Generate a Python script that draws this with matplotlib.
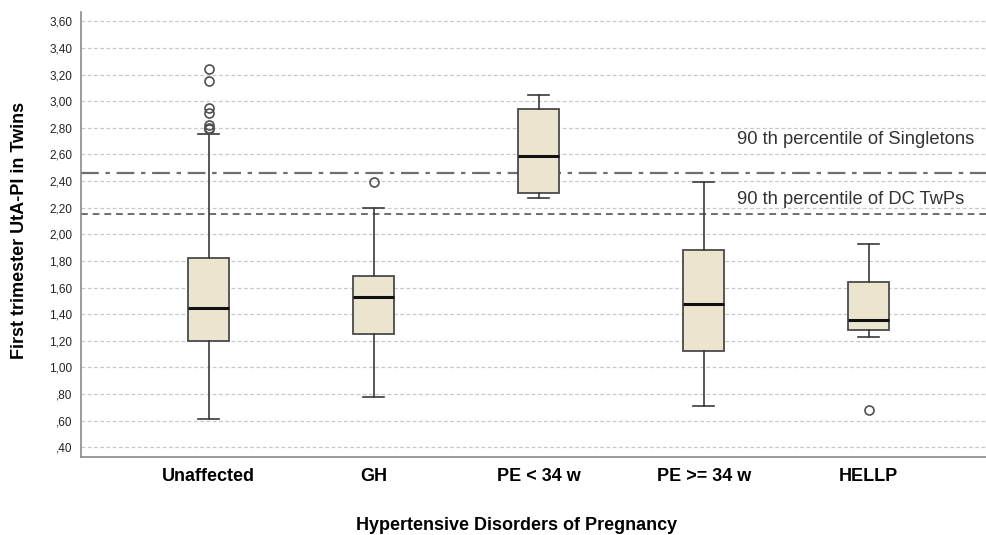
import matplotlib.pyplot as plt
from matplotlib.ticker import FixedLocator, FuncFormatter

plt.rcParams["font.family"] = ["Liberation Sans", "DejaVu Sans"]

groups = ["Unaffected", "GH", "PE < 34 w", "PE >= 34 w", "HELLP"]
whisker_low = [0.61, 0.78, 2.27, 0.71, 1.23]
q1 = [1.20, 1.25, 2.31, 1.12, 1.28]
median = [1.45, 1.53, 2.59, 1.475, 1.36]
q3 = [1.825, 1.69, 2.94, 1.88, 1.645]
whisker_high = [2.75, 2.20, 3.05, 2.39, 1.925]
outliers = [
    [3.24, 3.155, 2.95, 2.91, 2.82, 2.80, 2.79],
    [2.39],
    [],
    [],
    [0.68],
]

p90_singletons = 2.46
p90_dc_twps = 2.155
y_ticks = [0.40, 0.60, 0.80, 1.00, 1.20, 1.40, 1.60, 1.80, 2.00,
           2.20, 2.40, 2.60, 2.80, 3.00, 3.20, 3.40, 3.60]

stats = []
for i, name in enumerate(groups):
    stats.append({
        "label": name,
        "whislo": whisker_low[i],
        "q1": q1[i],
        "med": median[i],
        "q3": q3[i],
        "whishi": whisker_high[i],
        "fliers": outliers[i],
    })

fig = plt.figure(figsize=(9.87, 5.35), dpi=100)
ax = fig.add_axes([0.0818, 0.1464, 0.917, 0.8312])

# grid first so the boxes sit on top
for t in y_ticks:
    ax.axhline(t, color="#c8c8c8", lw=0.9, ls=(0, (3, 2)), zorder=0)

ax.bxp(
    stats,
    positions=range(len(groups)),
    widths=0.25,
    patch_artist=True,
    boxprops=dict(facecolor="#ebe5d0", edgecolor="#4a4a4a", linewidth=1.3),
    medianprops=dict(color="#111111", linewidth=2.2),
    whiskerprops=dict(color="#3a3a3a", linewidth=1.2),
    capprops=dict(color="#3a3a3a", linewidth=1.2),
    flierprops=dict(marker="o", markersize=6.5, markerfacecolor="none",
                    markeredgecolor="#505050", markeredgewidth=1.2),
    zorder=3,
)

ax.axhline(p90_singletons, color="#6e6e6e", lw=1.6, ls=(0, (8, 3, 2, 3)), zorder=2)
ax.axhline(p90_dc_twps, color="#6e6e6e", lw=1.4, ls=(0, (3.5, 2.5)), zorder=2)
ax.text(3.2, 2.71, "90 th percentile of Singletons", fontsize=13.2,
        color="#333333", va="center", ha="left")
ax.text(3.2, 2.26, "90 th percentile of DC TwPs", fontsize=13.2,
        color="#333333", va="center", ha="left")

ax.set_xlim(-0.776, 4.71)
ax.set_ylim(0.33, 3.67)
ax.yaxis.set_major_locator(FixedLocator(y_ticks))


def spss_fmt(v, pos):
    s = f"{v:.2f}".replace(".", ",")
    return s[1:] if s.startswith("0") else s


ax.yaxis.set_major_formatter(FuncFormatter(spss_fmt))
ax.set_xticks(range(len(groups)))
ax.set_xticklabels(groups, fontsize=13, fontweight="bold")
ax.tick_params(axis="y", labelsize=8.5, length=0, pad=6, labelcolor="#222222")
ax.tick_params(axis="x", length=0, pad=8)

for side in ("top", "right"):
    ax.spines[side].set_visible(False)
for side in ("left", "bottom"):
    ax.spines[side].set_color("#8a8a8a")
    ax.spines[side].set_linewidth(1.2)

fig.text(517 / 987, 1 - 525 / 535, "Hypertensive Disorders of Pregnancy",
         fontsize=13, fontweight="bold", ha="center", va="center")
fig.text(20 / 987, 1 - 230 / 535, "First trimester UtA-PI in Twins",
         fontsize=13, fontweight="bold", ha="center", va="center", rotation=90)

fig.savefig("out.png", dpi=100)
